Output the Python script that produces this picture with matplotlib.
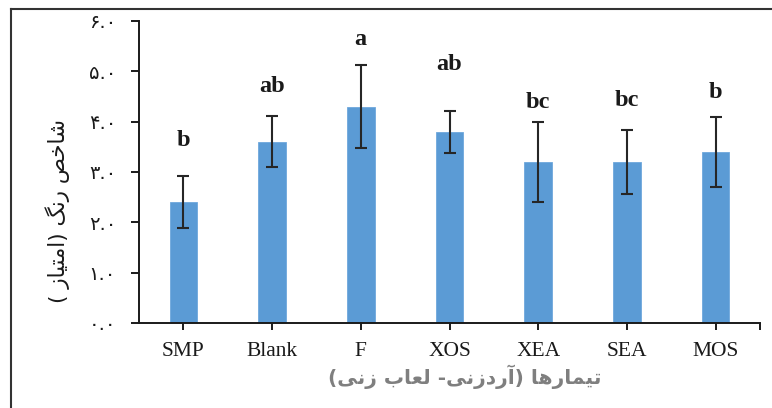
import matplotlib
matplotlib.use('Agg')
import matplotlib.pyplot as plt
from matplotlib import font_manager
from matplotlib.ft2font import FT2Font
from matplotlib.lines import Line2D

# ---------------- data ----------------
categories = ['SMP', 'Blank', 'F', 'XOS', 'XEA', 'SEA', 'MOS']
means = [2.4, 3.6, 4.3, 3.8, 3.2, 3.2, 3.4]
errors = [0.52, 0.51, 0.82, 0.42, 0.80, 0.63, 0.70]
letters = ['b', 'ab', 'a', 'ab', 'bc', 'bc', 'b']
letter_y = [3.63, 4.69, 5.63, 5.13, 4.39, 4.43, 4.57]
yticks = [0, 1, 2, 3, 4, 5, 6]
ylabel_text = 'شاخص رنگ (امتیاز )'
xlabel_text = 'تیمارها (آردزنی- لعاب زنی)'

# ---------------- simple Arabic/Persian shaping ----------------
FORMS = {
    '\u0627': ('\uFE8D', '\uFE8E', None, None),      # alef
    '\u0622': ('\uFE81', '\uFE82', None, None),      # alef madda
    '\u0628': ('\uFE8F', '\uFE90', '\uFE91', '\uFE92'),  # beh
    '\u062A': ('\uFE95', '\uFE96', '\uFE97', '\uFE98'),  # teh
    '\u062E': ('\uFEA5', '\uFEA6', '\uFEA7', '\uFEA8'),  # khah
    '\u062F': ('\uFEA9', '\uFEAA', None, None),      # dal
    '\u0631': ('\uFEAD', '\uFEAE', None, None),      # reh
    '\u0632': ('\uFEAF', '\uFEB0', None, None),      # zain
    '\u0634': ('\uFEB5', '\uFEB6', '\uFEB7', '\uFEB8'),  # sheen
    '\u0635': ('\uFEB9', '\uFEBA', '\uFEBB', '\uFEBC'),  # sad
    '\u0639': ('\uFEC9', '\uFECA', '\uFECB', '\uFECC'),  # ain
    '\u0644': ('\uFEDD', '\uFEDE', '\uFEDF', '\uFEE0'),  # lam
    '\u0645': ('\uFEE1', '\uFEE2', '\uFEE3', '\uFEE4'),  # meem
    '\u0646': ('\uFEE5', '\uFEE6', '\uFEE7', '\uFEE8'),  # noon
    '\u0647': ('\uFEE9', '\uFEEA', '\uFEEB', '\uFEEC'),  # heh
    '\u06CC': ('\uFBFC', '\uFBFD', '\uFBFE', '\uFBFF'),  # farsi yeh
    '\u06AF': ('\uFB92', '\uFB93', '\uFB94', '\uFB95'),  # gaf
}
FALLBACK = {
    '\uFBFC': '\uFEEF', '\uFBFD': '\uFEF0', '\uFBFE': '\uFEF3', '\uFBFF': '\uFEF4',
    '\uFB92': '\uFED9', '\uFB93': '\uFEDA', '\uFB94': '\uFEDB', '\uFB95': '\uFEDC',
}


def font_path(family, weight='normal'):
    try:
        return font_manager.findfont(
            font_manager.FontProperties(family=family, weight=weight),
            fallback_to_default=False)
    except Exception:
        return None


def charmap(family, weight='normal'):
    p = font_path(family, weight)
    if p is None:
        return set()
    try:
        return set(FT2Font(p).get_charmap().keys())
    except Exception:
        return set()


def shape(text, cmap):
    chars = list(text)
    out = []
    for i, c in enumerate(chars):
        f = FORMS.get(c)
        if f is None:
            out.append(c)
            continue
        prev = chars[i - 1] if i > 0 else None
        nxt = chars[i + 1] if i + 1 < len(chars) else None
        jp = prev is not None and prev in FORMS and FORMS[prev][2] is not None
        jn = f[2] is not None and nxt is not None and nxt in FORMS
        if jp and jn:
            g = f[3]
        elif jp:
            g = f[1]
        elif jn:
            g = f[2]
        else:
            g = f[0]
        if ord(g) not in cmap and g in FALLBACK:
            g = FALLBACK[g]
        out.append(g)
    vis = ''.join(out)[::-1]
    return vis.translate(str.maketrans('()', ')('))


ar_family = 'DejaVu Sans'
cmap_reg = charmap(ar_family)
cmap_bold = charmap(ar_family, 'bold')

persian_digits = '۰۱۲۳۴۵۶۷۸۹'


def fa_num(v):
    s = f'{v:.1f}'
    return ''.join(persian_digits[int(c)] if c.isdigit() else c for c in s)


# ---------------- figure ----------------
fig = plt.figure(figsize=(7.72, 4.08), dpi=100)
ax = fig.add_axes([139 / 772, 1 - 323 / 408, (760 - 139) / 772, (323 - 21) / 408])

x = list(range(len(categories)))
ax.bar(x, means, width=0.31, color='#5B9BD5', edgecolor='#6FA8DC',
       linewidth=0.6, zorder=2)
ax.errorbar(x, means, yerr=errors, fmt='none', ecolor='#262626',
            elinewidth=1.5, capsize=4.3, capthick=1.5, zorder=3)

for xi, lab, ly in zip(x, letters, letter_y):
    ax.text(xi, ly, lab, ha='center', va='center', fontsize=17.5,
            fontweight='bold', family='Liberation Serif', color='#1a1a1a')

ax.set_xlim(-0.5, len(categories) - 0.5)
ax.set_ylim(0, 6)
ax.set_xticks(x)
ax.set_xticklabels(categories, family='Liberation Serif', fontsize=15.5,
                   color='#1a1a1a')
ax.set_xticks([len(categories) - 0.5], minor=True)
ax.set_yticks(yticks)
ax.set_yticklabels([fa_num(v) for v in yticks], family=ar_family,
                   fontsize=14, color='#1a1a1a')

for side in ['top', 'right']:
    ax.spines[side].set_visible(False)
for side in ['left', 'bottom']:
    ax.spines[side].set_linewidth(1.4)
    ax.spines[side].set_color('#1a1a1a')
ax.tick_params(axis='y', which='major', direction='out', length=6, width=1.4,
               color='#1a1a1a', pad=10.5)
ax.tick_params(axis='x', which='both', direction='out', length=5, width=1.4,
               color='#1a1a1a', pad=9)

# axis titles (Persian)
fig.text(465 / 772, 1 - 377 / 408, shape(xlabel_text, cmap_bold),
         ha='center', va='center', fontsize=14.5, fontweight='bold',
         family=ar_family, color='#7f7f7f')
fig.text(58 / 772, 1 - 211 / 408, shape(ylabel_text, cmap_reg),
         ha='center', va='center', fontsize=15.5, rotation=90,
         family=ar_family, color='#1a1a1a')

# outer frame (top and left edges visible)
fig.add_artist(Line2D([11 / 772, 11 / 772], [0, 1 - 9 / 408],
                      transform=fig.transFigure, color='#333333', lw=1.5))
fig.add_artist(Line2D([11 / 772, 1], [1 - 9 / 408, 1 - 9 / 408],
                      transform=fig.transFigure, color='#333333', lw=1.5))

fig.savefig('out.png', dpi=100)
